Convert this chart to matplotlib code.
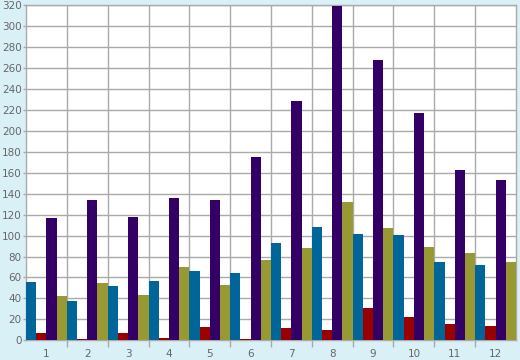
import numpy as np
import matplotlib
matplotlib.use("Agg")
import matplotlib.pyplot as plt

groups = [1, 2, 3, 4, 5, 6, 7, 8, 9, 10, 11, 12]
blue = [56, 38, 52, 57, 66, 64, 93, 108, 102, 101, 75, 72]
red = [7, 1, 7, 2, 13, 1, 12, 10, 31, 22, 16, 14]
purple = [117, 134, 118, 136, 134, 175, 229, 319, 268, 217, 163, 153]
olive = [42, 55, 43, 70, 53, 77, 88, 132, 107, 89, 83, 75]

series = [blue, red, purple, olive]
colors = ["#006699", "#990000", "#330066", "#999933"]

bg = "#daf0f7"
grid_col = "#aaaaaa"
txt_col = "#666666"

fig = plt.figure(figsize=(5.2, 3.6), dpi=100, facecolor=bg)
ax = fig.add_axes([26 / 520, (360 - 340.3) / 360, 490 / 520, 335 / 360])
ax.set_facecolor("white")

x = np.array(groups, dtype=float)
w = 0.25
for k, (vals, c) in enumerate(zip(series, colors)):
    ax.bar(x - 0.5 + w * (k + 0.5), vals, width=w, color=c, linewidth=0, zorder=3)

ax.set_xlim(0.5, 12.5)
ax.set_ylim(0, 320)
ax.set_yticks(np.arange(0, 321, 20))
ax.set_xticks(groups)
ax.set_xticks(np.arange(1.5, 12, 1), minor=True)

ax.grid(True, axis="y", which="major", color=grid_col, linewidth=1, zorder=0)
ax.grid(True, axis="x", which="minor", color=grid_col, linewidth=1, zorder=0)
ax.grid(False, axis="x", which="major")

ax.tick_params(axis="x", which="major", length=0, pad=6, labelsize=7.5, labelcolor=txt_col)
ax.tick_params(axis="x", which="minor", length=5, width=1, color=grid_col, direction="out")
ax.tick_params(axis="y", which="major", length=2, width=1, color=grid_col, pad=1,
               labelsize=7.5, labelcolor=txt_col)

for s in ax.spines.values():
    s.set_color(grid_col)
    s.set_linewidth(1)

fig.savefig("out.png", dpi=100, facecolor=bg)
